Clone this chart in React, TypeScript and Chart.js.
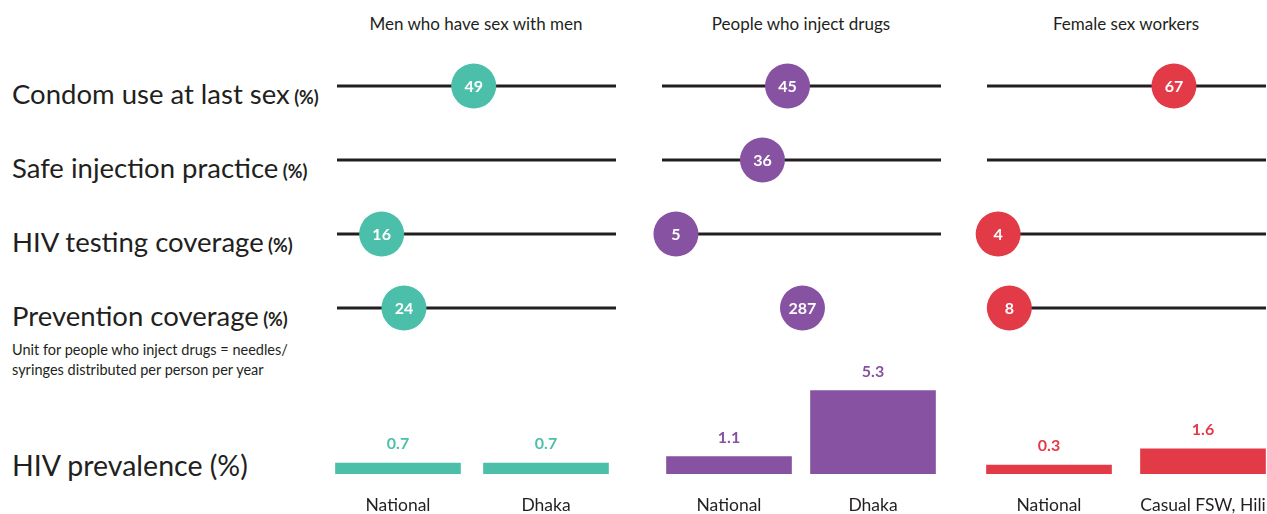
import React, { useEffect, useRef } from 'react';
import { Chart, registerables } from 'chart.js';
Chart.register(...registerables);

const FONT = 'Lato, "Open Sans", sans-serif';
const INK = '#231f20';

// ---- data ----
const groups = ['Men who have sex with men', 'People who inject drugs', 'Female sex workers'];
const indicators = ['Condom use at last sex', 'Safe injection practice', 'HIV testing coverage', 'Prevention coverage'];
const msmValues: (number | null)[] = [49, null, 16, 24];
const pwidValues: (number | null)[] = [45, 36, 5, 287];
const fswValues: (number | null)[] = [67, null, 4, 8];
const msmUnits = ['%', '%', '%', '%'];
const pwidUnits = ['%', '%', '%', 'needles'];
const fswUnits = ['%', '%', '%', '%'];
const needlesScaleMax = 570;
const msmPrevLabels = ['National', 'Dhaka'];
const msmPrevalence = [0.7, 0.7];
const pwidPrevLabels = ['National', 'Dhaka'];
const pwidPrevalence = [1.1, 5.3];
const fswPrevLabels = ['National', 'Casual FSW, Hili'];
const fswPrevalence = [0.3, 1.6];
const colors = ['#4bbfa9', '#8752a1', '#e33a48'];

// ---- layout ----
const LINE_LEN = 279;
const DOT_PAD = 30;
const DOT_TOP = 49;
const DOT_H = 296;
const BAR_TOP = 348;
const BAR_AREA_H = 126;
const BAR_PAD_BOTTOM = 40;

const dotLabelPlugin = {
  id: 'dotLabels',
  afterDatasetsDraw(chart: any) {
    const ctx = chart.ctx;
    ctx.save();
    ctx.font = `bold 16px ${FONT}`;
    ctx.fillStyle = '#ffffff';
    ctx.textAlign = 'center';
    ctx.textBaseline = 'middle';
    chart.data.datasets.forEach((ds: any, di: number) => {
      if (ds.type !== 'scatter') return;
      const meta = chart.getDatasetMeta(di);
      meta.data.forEach((el: any, i: number) => {
        ctx.fillText(String(ds.data[i].x), el.x, el.y + 1);
      });
    });
    ctx.restore();
  },
};

function DotChart({ values, units, color, left }: { values: (number | null)[]; units: string[]; color: string; left: number }) {
  const ref = useRef<HTMLCanvasElement>(null);
  useEffect(() => {
    const lines = units
      .map((u, i) => ({ u, i }))
      .filter((r) => r.u === '%')
      .map((r) => ({
        type: 'line' as const,
        data: [{ x: 0, y: r.i }, { x: 100, y: r.i }],
        borderColor: INK,
        borderWidth: 3,
        pointRadius: 0,
        borderCapStyle: 'butt',
        xAxisID: 'x',
        order: 2,
        clip: false,
      }));
    const pctDots = values
      .map((v, i) => ({ v, i }))
      .filter((r) => r.v != null && units[r.i] === '%')
      .map((r) => ({ x: r.v as number, y: r.i }));
    const otherDots = values
      .map((v, i) => ({ v, i }))
      .filter((r) => r.v != null && units[r.i] !== '%')
      .map((r) => ({ x: r.v as number, y: r.i }));
    const dotStyle = {
      pointRadius: 22.5,
      pointHoverRadius: 22.5,
      pointBackgroundColor: color,
      pointBorderWidth: 0,
      borderWidth: 0,
      showLine: false,
      order: 0,
      clip: false,
    };
    const chart = new Chart(ref.current!, {
      type: 'scatter',
      data: {
        datasets: [
          { type: 'scatter', data: pctDots, xAxisID: 'x', ...dotStyle },
          { type: 'scatter', data: otherDots, xAxisID: 'x2', ...dotStyle },
          ...lines,
        ] as any,
      },
      options: {
        responsive: false,
        animation: false,
        devicePixelRatio: 1,
        layout: { autoPadding: false, padding: { left: DOT_PAD, right: DOT_PAD, top: 0, bottom: 0 } },
        plugins: { legend: { display: false }, tooltip: { enabled: false } },
        scales: {
          x: { type: 'linear', min: 0, max: 100, display: false },
          x2: { type: 'linear', min: 0, max: needlesScaleMax, display: false },
          y: { type: 'linear', min: -0.5, max: 3.5, reverse: true, display: false },
        },
      } as any,
      plugins: [dotLabelPlugin],
    });
    return () => chart.destroy();
  }, []);
  return (
    <canvas
      ref={ref}
      width={LINE_LEN + 2 * DOT_PAD}
      height={DOT_H}
      style={{ position: 'absolute', left: left - DOT_PAD, top: DOT_TOP, width: LINE_LEN + 2 * DOT_PAD, height: DOT_H }}
    />
  );
}

const barLabelPlugin = {
  id: 'barLabels',
  afterDatasetsDraw(chart: any) {
    const ctx = chart.ctx;
    const ds = chart.data.datasets[0];
    const meta = chart.getDatasetMeta(0);
    const area = chart.chartArea;
    ctx.save();
    ctx.textAlign = 'center';
    ctx.textBaseline = 'middle';
    meta.data.forEach((el: any, i: number) => {
      ctx.font = `bold 16px ${FONT}`;
      ctx.fillStyle = ds.backgroundColor;
      ctx.fillText(String(ds.data[i]), el.x, el.y - 19);
      ctx.font = `17.5px ${FONT}`;
      ctx.fillStyle = INK;
      ctx.fillText(String(chart.data.labels[i]), el.x, area.bottom + 31);
    });
    ctx.restore();
  },
};

function BarChart({ labels, values, color, c1, c2 }: { labels: string[]; values: number[]; color: string; c1: number; c2: number }) {
  const ref = useRef<HTMLCanvasElement>(null);
  const w = 2 * (c2 - c1);
  const left = c1 - w / 4;
  const h = BAR_AREA_H + BAR_PAD_BOTTOM;
  useEffect(() => {
    const chart = new Chart(ref.current!, {
      type: 'bar',
      data: {
        labels,
        datasets: [{ data: values, backgroundColor: color, barThickness: 125, minBarLength: 9, borderWidth: 0 }],
      },
      options: {
        responsive: false,
        animation: false,
        devicePixelRatio: 1,
        layout: { autoPadding: false, padding: { left: 0, right: 0, top: 0, bottom: BAR_PAD_BOTTOM } },
        plugins: { legend: { display: false }, tooltip: { enabled: false } },
        scales: {
          x: { type: 'category', display: false, offset: true },
          y: { type: 'linear', min: 0, max: 8, display: false },
        },
      } as any,
      plugins: [barLabelPlugin],
    });
    return () => chart.destroy();
  }, []);
  return (
    <canvas
      ref={ref}
      width={Math.round(w)}
      height={h}
      style={{ position: 'absolute', left, top: BAR_TOP, width: Math.round(w), height: h }}
    />
  );
}

const rowCenters = [95, 169, 243, 317];
const headerCenters = [476, 801, 1126];
const lineStarts = [337, 662, 987];

export default function App() {
  return (
    <div
      style={{
        position: 'absolute',
        left: 0,
        top: 0,
        width: 1267,
        height: 514,
        overflow: 'hidden',
        background: '#ffffff',
        fontFamily: FONT,
        color: INK,
      }}
    >
      {groups.map((g, i) => (
        <div
          key={g}
          style={{ position: 'absolute', left: headerCenters[i] - 160, width: 320, top: 14, textAlign: 'center', fontSize: 17, lineHeight: '20px' }}
        >
          {g}
        </div>
      ))}
      {indicators.map((t, i) => (
        <div
          key={t}
          style={{ position: 'absolute', left: 12, top: rowCenters[i] - 17, lineHeight: '32px', whiteSpace: 'nowrap' }}
        >
          <span style={{ fontSize: 27.5 }}>{t}</span>
          <span style={{ fontSize: 18, fontWeight: 'bold' }}> (%)</span>
        </div>
      ))}
      <div style={{ position: 'absolute', left: 12, top: 340, fontSize: 14.5, lineHeight: '20px' }}>
        Unit for people who inject drugs = needles/
        <br />
        syringes distributed per person per year
      </div>
      <div style={{ position: 'absolute', left: 12, top: 449, fontSize: 28.5, lineHeight: '32px', whiteSpace: 'nowrap' }}>
        HIV prevalence (%)
      </div>
      <DotChart values={msmValues} units={msmUnits} color={colors[0]} left={lineStarts[0]} />
      <DotChart values={pwidValues} units={pwidUnits} color={colors[1]} left={lineStarts[1]} />
      <DotChart values={fswValues} units={fswUnits} color={colors[2]} left={lineStarts[2]} />
      <BarChart labels={msmPrevLabels} values={msmPrevalence} color={colors[0]} c1={398.4} c2={546.4} />
      <BarChart labels={pwidPrevLabels} values={pwidPrevalence} color={colors[1]} c1={729.4} c2={873.5} />
      <BarChart labels={fswPrevLabels} values={fswPrevalence} color={colors[2]} c1={1048.5} c2={1202.5} />
    </div>
  );
}
